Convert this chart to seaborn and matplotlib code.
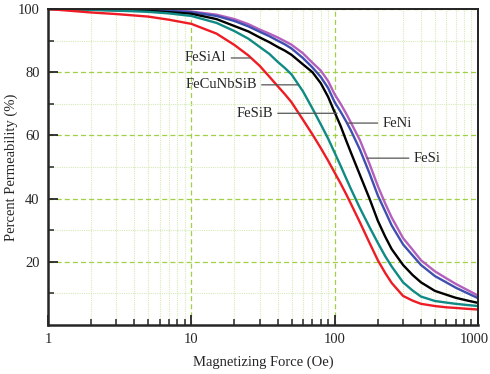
import numpy as np
import pandas as pd
import matplotlib
matplotlib.use("Agg")
import matplotlib.pyplot as plt
import matplotlib.ticker as mticker
import matplotlib.transforms as mtransforms
import seaborn as sns

# ---- data ----
force = [1, 2, 3, 5, 7, 10, 15, 20, 25, 30, 35, 40, 45, 50, 60, 70, 80, 90, 100, 110, 120, 130,
         150, 175, 200, 225, 250, 300, 350, 400, 500, 600, 700, 850, 1000]
fesial = [100, 98.9, 98.4, 97.6, 96.6, 95.3, 92.2, 88.6, 85.3, 82.0, 78.6, 75.6, 73.0, 70.5, 65.0, 60.3,
          56.0, 52.0, 48.2, 44.8, 41.5, 38.3, 32.5, 26.0, 20.5, 16.5, 13.3, 9.2, 7.7, 6.7, 6.0, 5.6,
          5.4, 5.1, 4.9]
fecunbsib = [100, 99.7, 99.5, 99.1, 98.6, 97.8, 95.6, 93.0, 90.6, 88.0, 85.8, 83.3, 81.3, 79.3, 74.0, 68.5,
             63.5, 59.0, 54.5, 50.4, 46.5, 43.0, 37.0, 31.0, 26.0, 21.8, 18.5, 13.5, 10.9, 9.0, 7.6, 7.1,
             6.7, 6.3, 6.0]
fesib = [100, 99.8, 99.6, 99.4, 99.0, 98.5, 96.8, 94.6, 92.9, 91.0, 89.5, 88.0, 86.8, 85.5, 82.5, 80.0,
         76.5, 72.2, 67.3, 63.0, 58.5, 54.5, 47.5, 40.0, 33.0, 28.0, 24.0, 19.0, 15.8, 13.5, 10.8, 9.6,
         8.6, 7.7, 7.0]
feni = [100, 99.9, 99.8, 99.6, 99.4, 99.0, 97.8, 96.2, 94.5, 92.8, 91.4, 90.0, 88.8, 87.5, 84.5, 81.5,
        78.5, 75.0, 70.5, 67.5, 64.5, 61.5, 55.5, 48.0, 41.0, 36.0, 31.5, 25.5, 22.0, 19.0, 15.5, 13.5,
        11.8, 10.0, 8.5]
fesi = [100, 99.9, 99.8, 99.7, 99.6, 99.2, 98.2, 96.8, 95.2, 93.5, 92.2, 91.0, 89.8, 88.7, 86.0, 83.0,
        80.5, 77.2, 73.0, 70.0, 67.0, 64.0, 58.5, 51.0, 44.0, 38.5, 34.0, 27.5, 23.8, 20.5, 17.0, 14.8,
        13.0, 11.0, 9.3]

materials = ["FeSi", "FeNi", "FeSiB", "FeCuNbSiB", "FeSiAl"]
series = {"FeSiAl": fesial, "FeCuNbSiB": fecunbsib, "FeSiB": fesib, "FeNi": feni, "FeSi": fesi}
colors = {"FeSi": "#b55fbd", "FeNi": "#3f4fb0", "FeSiB": "#000000",
          "FeCuNbSiB": "#0f8a84", "FeSiAl": "#ee1c24"}

# label annotations: (label, x on curve, y, text x, text alignment)
labels = [("FeSiAl", 25.7, 84.5, 17.6, "right"),
          ("FeCuNbSiB", 55.6, 76.0, 28.7, "right"),
          ("FeSiB", 104, 67.0, 37.2, "right"),
          ("FeNi", 122, 63.9, 215, "left"),
          ("FeSi", 168, 52.8, 355, "left")]

rows = []
for m in materials:
    for f, v in zip(force, series[m]):
        rows.append({"Force": f, "Permeability": v, "Material": m})
df = pd.DataFrame(rows)

sns.set_style("ticks")
plt.rcParams["font.family"] = ["Liberation Serif", "DejaVu Serif"]

fig = plt.figure(figsize=(4.9, 3.74), dpi=100)
ax = fig.add_axes([48 / 490, 49 / 374, 430 / 490, 316 / 374])

sns.lineplot(data=df, x="Force", y="Permeability", hue="Material",
             hue_order=materials, palette=colors, linewidth=1.7,
             legend=False, ax=ax, sort=True)

ax.set_xscale("log")
ax.set_xlim(1, 1000)
ax.set_ylim(0, 100)

ax.xaxis.set_major_locator(mticker.FixedLocator([1, 10, 100, 1000]))
ax.xaxis.set_major_formatter(mticker.FixedFormatter(["1", "10", "100", "1000"]))
ax.xaxis.set_minor_locator(mticker.LogLocator(base=10, subs=np.arange(2, 10)))
ax.xaxis.set_minor_formatter(mticker.NullFormatter())
ax.set_yticks([20, 40, 60, 80, 100])
ax.yaxis.set_minor_locator(mticker.FixedLocator([10, 30, 50, 70, 90]))

ax.grid(which="major", color="#9fd045", ls=(0, (4, 2.5)), lw=0.9)
ax.grid(which="minor", color="#d6ebb8", ls=(0, (1, 1)), lw=0.8)
ax.set_axisbelow(True)

ax.tick_params(which="major", direction="in", length=7, width=1.3, labelsize=10.5,
               top=False, right=False, pad=6)
ax.tick_params(which="minor", direction="in", length=4, width=1.1, top=False, right=False)
for side in ["left", "bottom"]:
    ax.spines[side].set_linewidth(1.8)
for side in ["top", "right"]:
    ax.spines[side].set_linewidth(1.4)
    ax.spines[side].set_color("#222222")

ax.set_xlabel("Magnetizing Force (Oe)", fontsize=10.5)
ax.set_ylabel("Percent Permeability (%)", fontsize=10.5)
ax.xaxis.set_label_coords(0.5, -0.098)
ax.yaxis.set_label_coords(-0.07, 0.5)

# keep the last x tick label inside the canvas
last = ax.get_xticklabels()[-1]
last.set_transform(last.get_transform() +
                   mtransforms.ScaledTranslation(-3 / 72, 0, fig.dpi_scale_trans))

for name, xc, yc, xt, ha in labels:
    ax.annotate(name, xy=(xc, yc), xytext=(xt, yc), ha=ha, va="center",
                fontsize=10.5,
                arrowprops=dict(arrowstyle="-", color="#555555", lw=0.9,
                                shrinkA=1, shrinkB=0))

fig.savefig("out.png", dpi=100)
